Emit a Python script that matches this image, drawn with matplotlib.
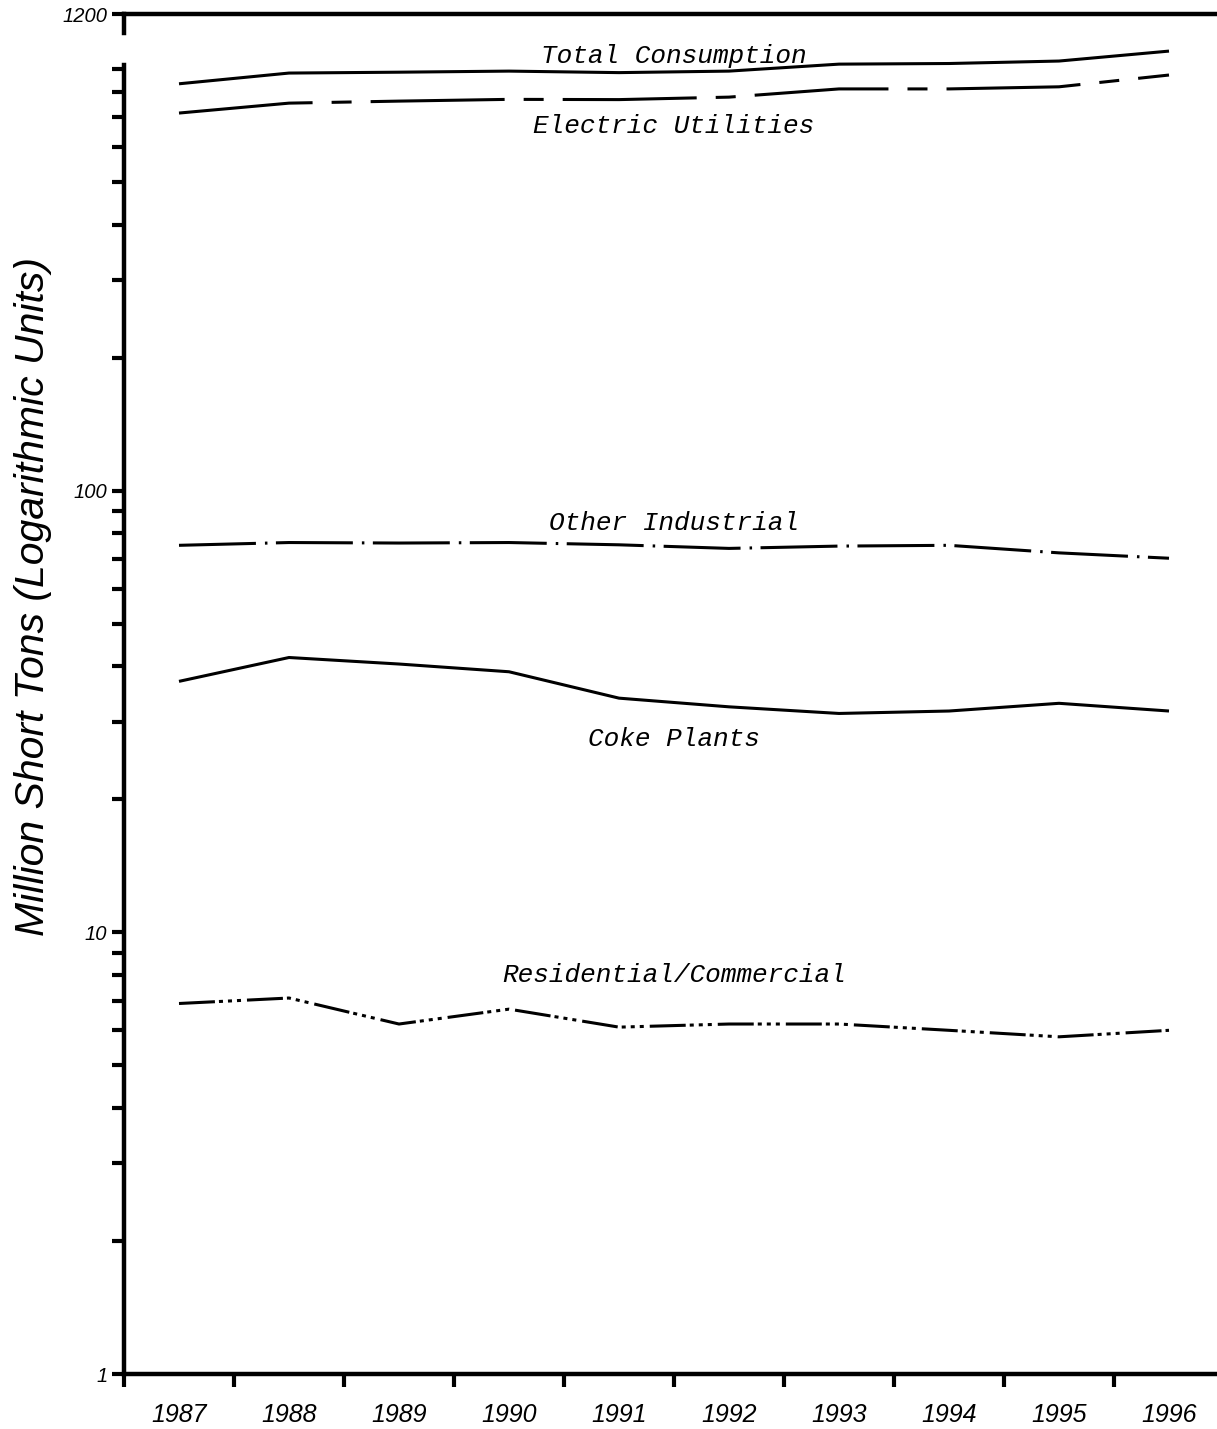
import matplotlib
matplotlib.use("Agg")
import matplotlib.pyplot as plt
from matplotlib.ticker import FixedLocator, NullFormatter, FixedFormatter

# U.S. coal consumption by sector, million short tons
years = [1987, 1988, 1989, 1990, 1991, 1992, 1993, 1994, 1995, 1996]
total = [834, 882, 886, 891, 884, 891, 924, 927, 939, 989]
electric = [716, 754, 762, 769, 768, 778, 812, 812, 821, 873]
other_ind = [75.2, 76.3, 76.1, 76.3, 75.4, 74.0, 74.9, 75.2, 72.3, 70.3]
coke = [37.0, 41.9, 40.5, 38.9, 33.9, 32.4, 31.3, 31.7, 33.0, 31.7]
res_comm = [6.9, 7.1, 6.2, 6.7, 6.1, 6.2, 6.2, 6.0, 5.8, 6.0]

series_names = ["Total Consumption", "Electric Utilities", "Other Industrial",
                "Coke Plants", "Residential/Commercial"]
# where each name sits (x in year slots, y in million short tons)
label_pos = [(5.0, 965), (5.0, 668), (5.0, 84.5), (5.0, 27.4), (5.0, 8.0)]

y_major = [1, 10, 100, 1200]
y_major_labels = ["1", "10", "100", "1200"]
y_minor = [2, 3, 4, 5, 6, 7, 8, 9, 20, 30, 40, 50, 60, 70, 80, 90,
           200, 300, 400, 500, 600, 700, 800, 900]

plt.rcParams['lines.scale_dashes'] = False

W, H = 1217, 1429
fig = plt.figure(figsize=(W / 100, H / 100), dpi=100)
ax = fig.add_axes([124 / W, 55 / H, 1100 / W, 1360 / H])

xs = [i + 0.5 for i in range(len(years))]
lw = 2.2
ax.plot(xs, total, color='black', lw=lw, solid_capstyle='butt')
ax.plot(xs, electric, color='black', lw=lw,
        linestyle=(0, (96.5, 13.7, 14.4, 13.7)), dash_capstyle='butt')
ax.plot(xs, other_ind, color='black', lw=lw,
        linestyle=(0, (55.4, 6.5, 1.8, 6.1)), dash_capstyle='butt')
ax.plot(xs, coke, color='black', lw=lw, solid_capstyle='butt')
ax.plot(xs, res_comm, color='black', lw=lw,
        linestyle=(0, (25.9, 2.9, 2.9, 3.6, 2.9, 3.6, 2.9, 4.3)),
        dash_capstyle='butt')

for name, (lx, ly) in zip(series_names, label_pos):
    ax.text(lx, ly, name, ha='center', va='center', fontsize=18.8,
            family='Liberation Mono', style='italic')

ax.set_yscale('log')
ax.set_ylim(1, 1200)
ax.set_xlim(0, 10)

# y axis ticks
ax.yaxis.set_major_locator(FixedLocator(y_major))
ax.yaxis.set_major_formatter(FixedFormatter(y_major_labels))
ax.yaxis.set_minor_locator(FixedLocator(y_minor))
ax.yaxis.set_minor_formatter(NullFormatter())
ax.tick_params(axis='y', which='both', direction='out', length=9, width=3,
               pad=3, labelsize=14.5)
for t in ax.get_yticklabels():
    t.set_fontstyle('italic')
    t.set_family('Liberation Sans')

# x axis: ticks at slot edges, year labels centred in slots
ax.xaxis.set_major_locator(FixedLocator(range(0, 11)))
ax.xaxis.set_major_formatter(NullFormatter())
ax.xaxis.set_minor_locator(FixedLocator(xs))
ax.xaxis.set_minor_formatter(FixedFormatter([str(y) for y in years]))
ax.tick_params(axis='x', which='major', direction='out', length=9, width=3)
ax.tick_params(axis='x', which='minor', length=0, pad=21, labelsize=18)
for t in ax.get_xticklabels(minor=True):
    t.set_fontstyle('italic')
    t.set_family('Liberation Sans')

# frame: thick top and bottom, left axis with a break near the top
ax.spines['right'].set_visible(False)
ax.spines['left'].set_visible(False)
ax.spines['top'].set_linewidth(3.2)
ax.spines['bottom'].set_linewidth(3.2)
for y0, y1 in [(0, 0.9625), (0.986, 1.0)]:
    ax.plot([0, 0], [y0, y1], color='black', lw=3.2, transform=ax.transAxes,
            clip_on=False, solid_capstyle='projecting')

fig.text(33 / W, 1 - 597 / H, "Million Short Tons (Logarithmic Units)",
         rotation=90, ha='center', va='center', fontsize=29.5,
         family='Liberation Sans', style='italic')

fig.savefig("out.png", dpi=100)
